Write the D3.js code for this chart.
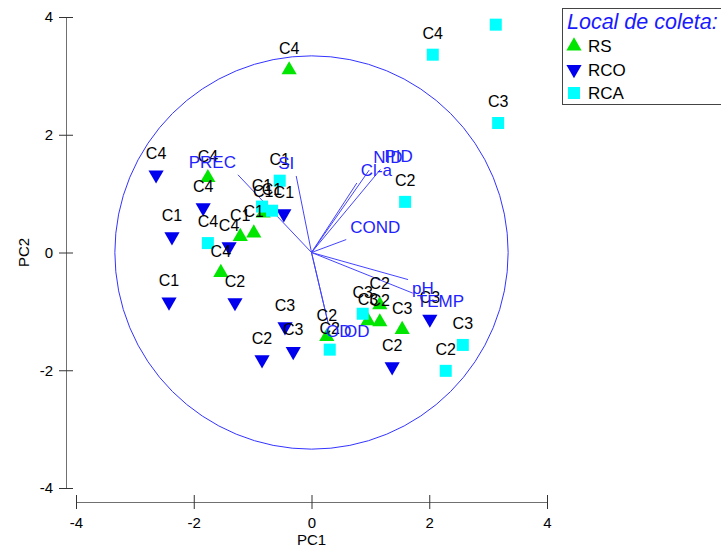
<!DOCTYPE html>
<html>
<head>
<meta charset="utf-8">
<script src="https://cdn.jsdelivr.net/npm/d3@7"></script>
<style>
  body { margin: 0; background: #fff; }
  text { font-family: "Liberation Sans", Arial, sans-serif; }
</style>
</head>
<body>
<div id="chart"></div>
<script>
// sample scores (PC1, PC2) and campaign labels per site
var rsPoints = [[-0.38, 3.10], [-1.76, 1.27], [-1.21, 0.27], [-0.98, 0.33], [-0.82, 0.67], [-1.54, -0.34],
  [0.26, -1.43], [1.16, -0.89], [0.96, -1.16], [1.16, -1.18], [1.54, -1.31]];
var rsLabels = ["C4", "C4", "C1", "C1", "C1", "C4", "C2", "C2", "C3", "C2", "C3"];

var rcoPoints = [[-2.64, 1.32], [-1.84, 0.76], [-2.37, 0.27], [-1.40, 0.10], [-0.47, 0.66], [-2.42, -0.84],
  [-1.30, -0.85], [-0.45, -1.26], [-0.31, -1.68], [-0.84, -1.82], [1.37, -1.94], [2.01, -1.13]];
var rcoLabels = ["C4", "C4", "C1", "C4", "C1", "C1", "C2", "C3", "C3", "C2", "C2", "C3"];

var rcaPoints = [[3.13, 3.87], [2.06, 3.36], [3.17, 2.20], [1.59, 0.86], [-0.54, 1.22], [-0.84, 0.78],
  [-0.67, 0.71], [-1.76, 0.16], [0.87, -1.04], [0.31, -1.65], [2.57, -1.57], [2.28, -2.01]];
var rcaLabels = ["C4", "C4", "C3", "C2", "C1", "C1", "C1", "C4", "C3", "C2", "C3", "C2"];

// variable loadings (vector end points)
var varNames = ["PREC", "SI", "Cl-a", "NID", "PID", "COND", "pH", "TEMP", "OD", "OD"];
var varLoadings = [[-1.25, 1.32], [-0.26, 1.30], [0.77, 1.18], [0.98, 1.40], [1.17, 1.41],
  [0.59, 0.22], [1.64, -0.46], [1.72, -0.69], [0.28, -1.19], [0.28, -1.19]];

var circleRadius = 3.34;
var axisTicks = [-4, -2, 0, 2, 4];
var siteNames = ["RS", "RCO", "RCA"];

var svgWidth = 721;
var svgHeight = 548;

var svg = d3.select("#chart")
  .append("svg")
  .attr("width", svgWidth)
  .attr("height", svgHeight);

var xScale = d3.scaleLinear().domain([-4, 4]).range([76, 547]);
var yScale = d3.scaleLinear().domain([-4, 4]).range([488, 17]);

// axes (detached from the plot area)
var xAxis = svg.append("g")
  .attr("transform", "translate(0, 502)")
  .call(d3.axisBottom(xScale).tickValues(axisTicks).tickFormat(d => String(d))
    .tickSize(7).tickSizeOuter(0).tickPadding(8));
xAxis.selectAll(".tick line").attr("y1", -7).attr("y2", 7);

var yAxis = svg.append("g")
  .attr("transform", "translate(66, 0)")
  .call(d3.axisLeft(yScale).tickValues(axisTicks).tickFormat(d => String(d))
    .tickSize(7).tickSizeOuter(0).tickPadding(6));
yAxis.selectAll(".tick line").attr("x1", -7).attr("x2", 7);

svg.selectAll(".domain").attr("stroke", "#707070");
svg.selectAll(".tick line").attr("stroke", "#333");
svg.selectAll(".tick text")
  .attr("fill", "#000")
  .style("font-size", "15px")
  .style("font-family", "'Liberation Sans', Arial, sans-serif");

svg.append("text")
  .attr("x", xScale(0))
  .attr("y", 545)
  .attr("text-anchor", "middle")
  .style("font-size", "15px")
  .text("PC1");

svg.append("text")
  .attr("transform", "rotate(-90)")
  .attr("x", -yScale(0))
  .attr("y", 29)
  .attr("text-anchor", "middle")
  .style("font-size", "15px")
  .text("PC2");

// correlation circle
svg.append("ellipse")
  .attr("cx", xScale(0))
  .attr("cy", yScale(0))
  .attr("rx", xScale(circleRadius) - xScale(0))
  .attr("ry", yScale(0) - yScale(circleRadius))
  .attr("fill", "none")
  .attr("stroke", "#3333ff")
  .attr("stroke-width", 1);

// loading vectors
svg.selectAll(".vec")
  .data(varLoadings)
  .enter()
  .append("line")
  .attr("class", "vec")
  .attr("x1", xScale(0))
  .attr("y1", yScale(0))
  .attr("x2", d => xScale(d[0]))
  .attr("y2", d => yScale(d[1]))
  .attr("stroke", "#4444ff")
  .attr("stroke-width", 1);

// sample markers
var groups = [
  { points: rsPoints, labels: rsLabels, shape: d3.symbolTriangle, rot: 0, size: 100, color: "#00e600" },
  { points: rcoPoints, labels: rcoLabels, shape: d3.symbolTriangle, rot: 180, size: 100, color: "#0000ee" },
  { points: rcaPoints, labels: rcaLabels, shape: d3.symbolSquare, rot: 0, size: 144, color: "#00ffff" }
];

svg.append("clipPath")
  .attr("id", "plotClip")
  .append("rect")
  .attr("x", 66).attr("y", 17).attr("width", 655).attr("height", 531);

groups.forEach(function(g) {
  svg.append("g").selectAll("path")
    .data(g.points)
    .enter()
    .append("path")
    .attr("d", d3.symbol().type(g.shape).size(g.size))
    .attr("transform", d => `translate(${xScale(d[0])}, ${yScale(d[1])}) rotate(${g.rot})`)
    .attr("fill", g.color);
});

var labelLayer = svg.append("g").attr("clip-path", "url(#plotClip)");
groups.forEach(function(g) {
  labelLayer.selectAll(null)
    .data(g.points)
    .enter()
    .append("text")
    .attr("x", d => xScale(d[0]))
    .attr("y", d => yScale(d[1]) - 16)
    .attr("text-anchor", "middle")
    .attr("fill", "#000")
    .style("font-size", "16px")
    .text((d, i) => g.labels[i]);
});

// vector labels
svg.selectAll(".vlab")
  .data(varLoadings)
  .enter()
  .append("text")
  .attr("class", "vlab")
  .attr("x", (d, i) => xScale(d[0]) + (d[0] < 0 ? -2 : 4) + (i === 9 ? 12 : 0) + (i === 8 ? -6 : 0))
  .attr("y", d => yScale(d[1]) + (d[1] > 0 ? -7 : 14))
  .attr("text-anchor", d => d[0] < 0 ? "end" : "start")
  .attr("fill", "#2222ff")
  .style("font-size", "17px")
  .text((d, i) => varNames[i]);

// legend
var legend = svg.append("g");
legend.append("rect")
  .attr("x", 562.5).attr("y", 8.5)
  .attr("width", 200).attr("height", 96)
  .attr("fill", "#fff")
  .attr("stroke", "#444");

legend.append("text")
  .attr("x", 567).attr("y", 29)
  .attr("fill", "#1a1aff")
  .style("font-size", "21.5px")
  .style("font-style", "italic")
  .text("Local de coleta:");

groups.forEach(function(g, i) {
  var cy = 46 + i * 23.5;
  legend.append("path")
    .attr("d", d3.symbol().type(g.shape).size(g.size))
    .attr("transform", `translate(574, ${cy}) rotate(${g.rot})`)
    .attr("fill", g.color);
  legend.append("text")
    .attr("x", 588).attr("y", cy + 6)
    .attr("fill", "#000")
    .style("font-size", "17px")
    .text(siteNames[i]);
});
</script>
</body>
</html>
